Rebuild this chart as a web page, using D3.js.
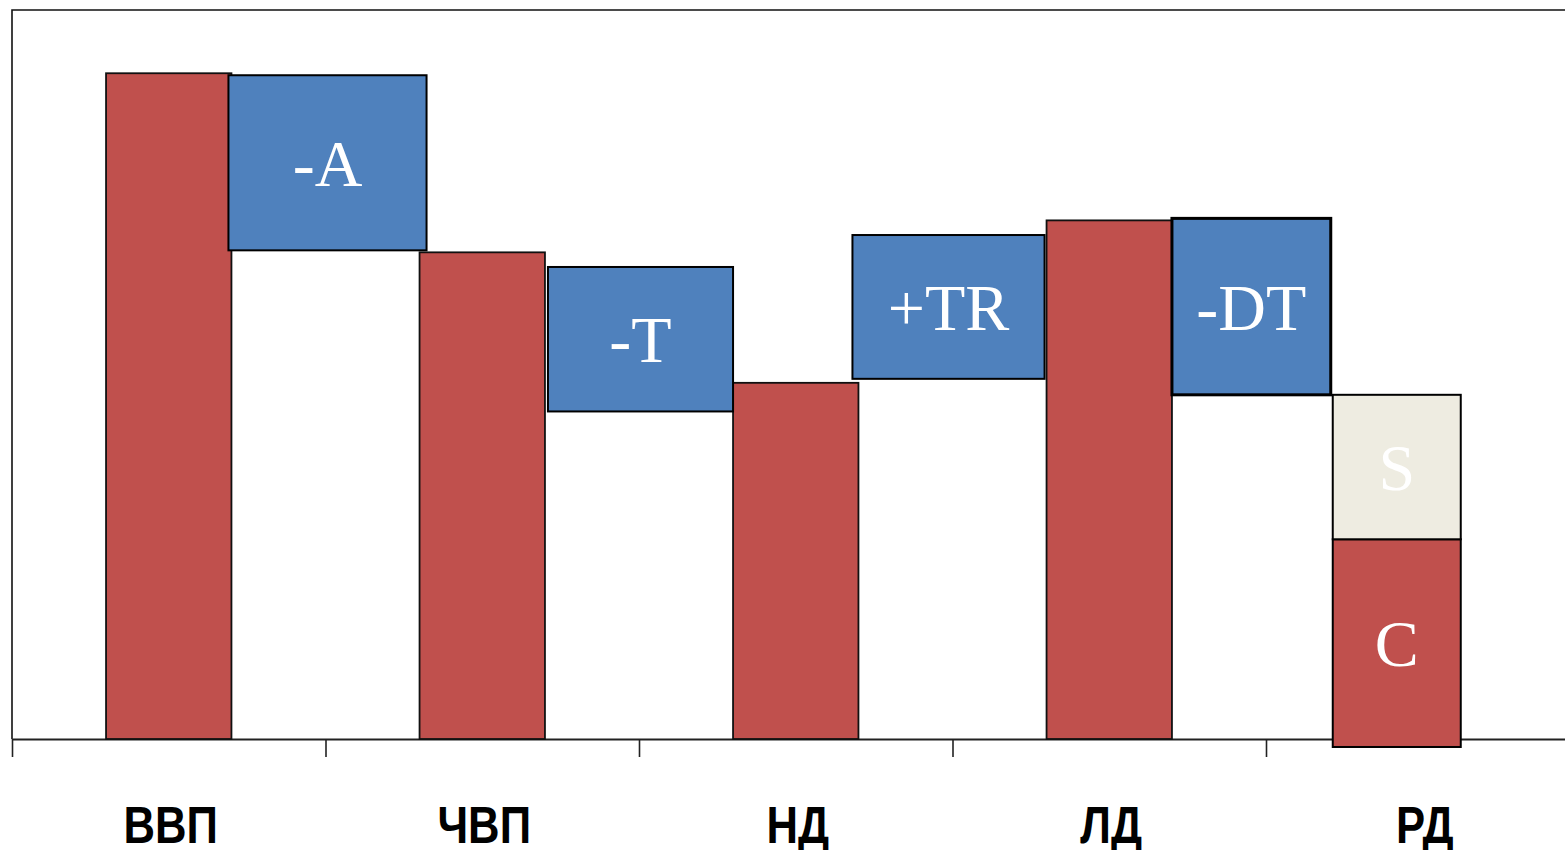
<!DOCTYPE html>
<html>
<head>
<meta charset="utf-8">
<script src="https://cdn.jsdelivr.net/npm/d3@7"></script>
<style>
  body { margin: 0; background: #fff; overflow: hidden; }
  .boxText { font-family: "Liberation Serif", "Times New Roman", serif; font-size: 66px; fill: #fff; }
  .catText { font-family: "Liberation Sans", Arial, sans-serif; font-weight: bold; font-size: 52px; fill: #000; }
</style>
</head>
<body>
<div id="chart"></div>
<script>
// chart values (arbitrary units, ВВП = 100)
var categories = ["ВВП", "ЧВП", "НД", "ЛД", "РД"];
var totals = [100.0, 73.1, 53.5, 77.9];          // red columns ВВП..ЛД
var stepLabels = ["-A", "-T", "+TR", "-DT"];
var stepTop = [99.7, 70.9, 75.7, 78.2];
var stepBottom = [73.4, 49.2, 54.1, 51.7];
var rdLabels = ["C", "S"];
var rdLow = [-1.2, 30.0];
var rdHigh = [30.0, 51.7];

var svgWidth = 1565;
var svgHeight = 850;

var svg = d3.select("#chart")
    .append("svg")
    .attr("width", svgWidth)
    .attr("height", svgHeight);

var plotLeft = 12, plotTop = 10, plotBase = 739;
var step = 313.5;

// band edges / centres
var x = d3.scaleBand()
    .domain(categories)
    .range([plotLeft, plotLeft + step * categories.length])
    .paddingInner(0)
    .paddingOuter(0);

var xEdge = d3.scaleLinear()
    .domain([0, categories.length])
    .range([plotLeft, plotLeft + step * categories.length]);

var y = d3.scaleLinear()
    .domain([0, 109.5])
    .range([plotBase, plotTop]);

var colWidth = x.bandwidth() * 0.4;
var stackShift = -26;      // the last stacked column sits a bit left of its band
var stackWidth = 128;
// the hand-drawn step boxes overlap their neighbours a little (px, left/right)
var boxNudge = [[-3, 7], [3, 0], [-6, -2], [0, -2]];

function colLeft(i) {
    var c = x(categories[i]) + x.bandwidth() / 2;
    if (i === categories.length - 1) return c + stackShift - stackWidth / 2;
    return c - colWidth / 2;
}
function colRight(i) {
    if (i === categories.length - 1) return colLeft(i) + stackWidth;
    return colLeft(i) + colWidth;
}

// frame: left and top lines
svg.append("path")
    .attr("d", `M${plotLeft},${plotBase} V${plotTop} H${svgWidth + 10}`)
    .attr("fill", "none")
    .attr("stroke", "#111")
    .attr("stroke-width", 1.6);

// x axis with ticks on band edges
var axis = svg.append("g")
    .attr("transform", `translate(0, ${plotBase})`)
    .call(d3.axisBottom(xEdge)
        .tickValues(d3.range(categories.length + 1))
        .tickSize(18)
        .tickSizeOuter(0)
        .tickFormat(""));
axis.select(".domain").attr("stroke", "#222").attr("stroke-width", 1.8);
axis.selectAll(".tick line").attr("stroke", "#222").attr("stroke-width", 1.6);

var plot = svg.append("g");

// red columns
plot.selectAll("rect.total")
    .data(totals)
    .enter()
    .append("rect")
    .attr("class", "total")
    .attr("x", (d, i) => colLeft(i))
    .attr("width", colWidth)
    .attr("y", d => y(d))
    .attr("height", d => y(0) - y(d))
    .attr("fill", "#C0504D")
    .attr("stroke", "#111")
    .attr("stroke-width", 1.8);

// blue step boxes between columns
var steps = stepLabels.map(function(lab, i) {
    return {
        label: lab, top: stepTop[i], bottom: stepBottom[i],
        x0: colRight(i) + boxNudge[i][0], x1: colLeft(i + 1) + boxNudge[i][1], i: i
    };
});

var stepG = plot.selectAll("g.step")
    .data(steps)
    .enter()
    .append("g")
    .attr("class", "step");

stepG.append("rect")
    .attr("x", d => d.x0)
    .attr("width", d => d.x1 - d.x0)
    .attr("y", d => y(d.top))
    .attr("height", d => y(d.bottom) - y(d.top))
    .attr("fill", "#4F81BD")
    .attr("stroke", "#000")
    .attr("stroke-width", d => d.i === 3 ? 3 : 2);

stepG.append("text")
    .attr("class", "boxText")
    .attr("x", d => (d.x0 + d.x1) / 2)
    .attr("y", d => (y(d.top) + y(d.bottom)) / 2 + 23)
    .attr("text-anchor", "middle")
    .text(d => d.label);

// stacked last column: C and S
var rdColors = ["#C0504D", "#EEECE1"];
var rdG = plot.selectAll("g.rd")
    .data(rdLabels)
    .enter()
    .append("g")
    .attr("class", "rd");

var last = categories.length - 1;
rdG.append("rect")
    .attr("x", colLeft(last))
    .attr("width", stackWidth)
    .attr("y", (d, i) => y(rdHigh[i]))
    .attr("height", (d, i) => y(rdLow[i]) - y(rdHigh[i]))
    .attr("fill", (d, i) => rdColors[i])
    .attr("stroke", "#000")
    .attr("stroke-width", 2);

rdG.append("text")
    .attr("class", "boxText")
    .attr("x", colLeft(last) + stackWidth / 2)
    .attr("y", (d, i) => (y(rdHigh[i]) + y(rdLow[i])) / 2 + 23)
    .attr("text-anchor", "middle")
    .text(d => d);

// category labels (narrowed bold sans)
svg.selectAll("text.catText")
    .data(categories)
    .enter()
    .append("text")
    .attr("class", "catText")
    .attr("transform", d => `translate(${x(d) + x.bandwidth() / 2 + 2}, 843) scale(0.84, 1)`)
    .attr("text-anchor", "middle")
    .text(d => d);
</script>
</body>
</html>
